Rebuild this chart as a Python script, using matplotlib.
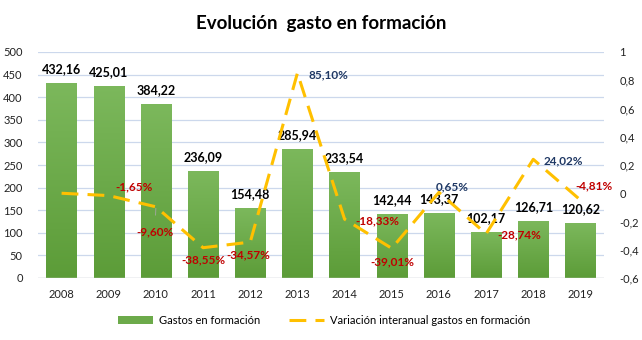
import numpy as np
import matplotlib
matplotlib.use('Agg')
import matplotlib.pyplot as plt
from matplotlib.lines import Line2D
from matplotlib.patches import Patch

plt.rcParams['font.family'] = ['Lato', 'DejaVu Sans']

years = ['2008', '2009', '2010', '2011', '2012', '2013',
         '2014', '2015', '2016', '2017', '2018', '2019']
gastos = [432.16, 425.01, 384.22, 236.09, 154.48, 285.94,
          233.54, 142.44, 143.37, 102.17, 126.71, 120.62]
variacion = [0.0, -0.0165, -0.0960, -0.3855, -0.3457, 0.8510,
             -0.1833, -0.3901, 0.0065, -0.2874, 0.2402, -0.0481]

# desplazamiento (px) de cada etiqueta de porcentaje respecto a su punto
pct_offsets = [None, (25, 9), (-1, -25), (0, -12), (-2, -13), (31, -2),
               (33, -2), (1, -13), (13, 5), (33, -1), (30, -2), (14, 14)]

GREEN_TOP = np.array([0x7c, 0xb8, 0x5c]) / 255
GREEN_BOT = np.array([0x5c, 0x9c, 0x38]) / 255
LINE_COLOR = '#FFC000'
RED = '#C00000'
BLUE = '#1F3864'

fig = plt.figure(figsize=(6.42, 3.40), dpi=100)
ax = fig.add_axes([38 / 642, 1 - 278 / 340, (604 - 38) / 642, (278 - 52) / 340])
ax2 = ax.twinx()

x = np.arange(len(years))
bars = ax.bar(x, gastos, width=0.64, color=GREEN_BOT, zorder=2)

# degradado vertical dentro de cada barra
grad = np.linspace(0, 1, 256)[:, None]
cmap_img = GREEN_TOP[None, None, :] * (1 - grad[..., None]) + GREEN_BOT[None, None, :] * grad[..., None]
for b in bars:
    x0, y0, w, h = b.get_x(), b.get_y(), b.get_width(), b.get_height()
    im = ax.imshow(cmap_img, extent=(x0, x0 + w, y0, y0 + h), aspect='auto',
                   zorder=2.1, interpolation='bilinear')
    im.set_clip_path(b)

ax.set_xlim(-0.5, len(years) - 0.5)
ax.set_ylim(0, 500)
ax.set_yticks(np.arange(0, 501, 50))
ax.set_xticks(x)
ax.set_xticklabels(years)
ax.grid(axis='y', color='#CCD8EC', linewidth=0.9, zorder=0)
ax.set_axisbelow(True)

ax2.set_ylim(-0.6, 1.0)
ax2.set_yticks(np.arange(-0.6, 1.01, 0.2))
ax2.set_yticklabels(['-0,6', '-0,4', '-0,2', '0', '0,2', '0,4', '0,6', '0,8', '1'])

for a in (ax, ax2):
    for side in ('top', 'left', 'right', 'bottom'):
        a.spines[side].set_visible(False)
    a.tick_params(length=0, labelsize=8, colors='#222222')
ax.axhline(0, color='#D0D0D0', linewidth=1, zorder=3)
ax.tick_params(axis='x', pad=8)
ax.tick_params(axis='y', pad=11)
ax2.tick_params(axis='y', pad=11)

ax2.plot(x, variacion, color=LINE_COLOR, linewidth=2.2, dashes=(5.5, 3),
         zorder=4)

# etiquetas de las barras
for xi, v in zip(x, gastos):
    ax.annotate(f'{v:.2f}'.replace('.', ','), (xi, v), xytext=(0, 14),
                textcoords='offset pixels', ha='center', va='center',
                fontsize=9, fontweight='bold', color='black', zorder=5)

# etiquetas de la variacion interanual
for xi, v, off in zip(x, variacion, pct_offsets):
    if off is None:
        continue
    txt = f'{v * 100:.2f}%'.replace('.', ',')
    arrow = None
    if abs(off[1]) > 20:
        arrow = dict(arrowstyle='-', color='#A6A6A6', linewidth=0.6,
                     shrinkA=6, shrinkB=1)
    ax2.annotate(txt, (xi, v), xytext=off, textcoords='offset pixels',
                 ha='center', va='center', fontsize=8.5, fontweight='bold',
                 color=RED if v < 0 else BLUE, zorder=5, arrowprops=arrow)

fig.text(0.5, 1 - 23 / 340, 'Evolución  gasto en formación', ha='center',
         va='center', fontsize=13.5, fontweight='bold', color='black')

handles = [Patch(facecolor=(GREEN_TOP + GREEN_BOT) / 2, edgecolor='none'),
           Line2D([0], [0], color=LINE_COLOR, linewidth=2.2, dashes=(5.5, 3))]
fig.legend(handles, ['Gastos en formación', 'Variación interanual gastos en formación'],
           loc='center', bbox_to_anchor=(324 / 642, 1 - 320 / 340), ncol=2,
           frameon=False, fontsize=8, handlelength=3.2, handleheight=0.7,
           columnspacing=2.6, handletextpad=0.5)

fig.savefig('out.png', dpi=100)
